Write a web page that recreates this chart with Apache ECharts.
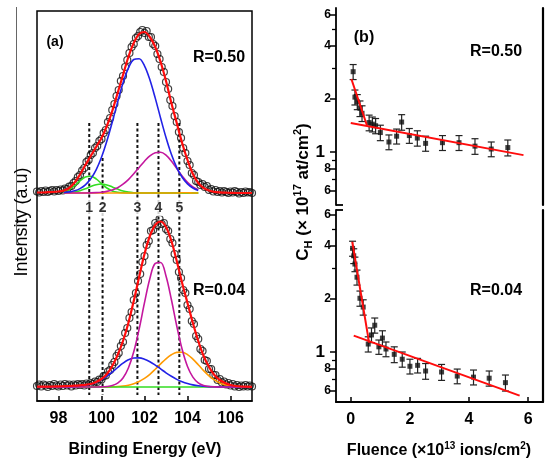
<!DOCTYPE html>
<html><head><meta charset="utf-8">
<script src="https://cdn.jsdelivr.net/npm/echarts@6/dist/echarts.min.js"></script>
<style>html,body{margin:0;padding:0;background:#fff;}#c{width:552px;height:462px;}</style>
</head><body><div id="c"></div>
<script>
// ---------- panel (a): XPS spectra ----------
const eFitStart = 97, eFitStep = 0.25;   // fit curves sampled every 0.25 eV (41 pts)
const ePtStart = 97, ePtStep = 0.1;      // measured points every 0.1 eV (101 pts)
const upperOffset = 208;                 // vertical stacking offset of R=0.50 spectrum
const lowerOffset = 14;                  // offset of R=0.04 spectrum

// R = 0.50 spectrum
const upperRed = [0.5,0.5,0.8,1,1.5,2.5,5,10.5,18.5,28, 37,46,55,67,82,100,118,136,150,159, 161,156,146,131,112,90,70,50,33,19, 10,5,2.5,1.2,0.6,0.3,0.2,0,0,0, 0];
const upperBlue = [null,null,null,null,null, 0.5,1.1,2.2,4.4,8.1,14.2,23.2,35.7,51.9,70.8, 90.9,109.9,124.9,133.5,134.3,127.2,113.2,94.9,74.8,55.5, 38.7,25.4,15.7,9.1,5.0,2.6, null,null,null,null,null,null,null,null,null,null];
const upperMagenta = [null,null,null,null,null, 0,0,0,0,0.05,0.16,0.38,0.8,1.6,3.1, 5.3,8.8,13.4,19.2,25.6,31.8,37.1,40.3,40.8,37.9, 31.9,24.4,17.0,10.7,6.2,3.2, null,null,null,null,null,null,null,null,null,null];
const upperGreen1 = [null,null,null,null,null, 1.4,3.5,7.3,12.1,16.0,16.8,14.1,9.4,5.0,2.1, 0.7,0.2,0.05,0,0,0,0,0,0,0, 0,0,0,0,0,0, null,null,null,null,null,null,null,null,null,null];
const upperGreen2 = [null,null,null,null,null, 0.1,0.4,1.0,2.3,4.2,6.5,8.3,9.0,8.1,6.1, 3.9,2.0,0.9,0.3,0.1,0,0,0,0,0, 0,0,0,0,0,0, null,null,null,null,null,null,null,null,null,null];
const upperOrange = [null,null,null,null,null, 0,0,0,0,0,0,0,0,0,0, 0,0,0,0,0,0,0,0,0,0, 0,0,0.3,0.3,0,0, null,null,null,null,null,null,null,null,null,null];
const upperPts = [
 1.5,0.5,2,1,2.5,1,2,3,1.5,3,
 2,3.5,2.5,4.5,4,6.5,7,10,12,16,
 18,22.5,25,31,33,38,40,45,47,52,
 54,60,63,71,75,83,89,97,103,112,
 117,126,133,140,146,149,155,157,161,163,
 160,162,156,156,149,147,139,134,126,121,
 111,104,93,87,77,71,61,55,45,40,
 32,28,20,18,12,11,8,9,6,7,
 3,4,1.5,3,1,2,0.5,2,1,0,
 1.5,0.5,2,1,-0.5,1,0,1.5,0.5,1,
 0];

// R = 0.04 spectrum
const lowerRed = [0.3,0.3,0.4,0.5,0.6,0.8,1,1.3,1.7,2.2, 3,5,8,13,21,32,46,64,86,110, 133,151,162,165.5,160,146,126,104,84,64, 46,31,20,12,7,4,2,1,0.5,0.3, 0.2];
const lowerBlue = [0,0,0,0,0.03,0.08,0.17,0.37,0.77,1.5, 2.7,4.6,7.2,10.8,15.0,19.5,23.8,27.2,29.0,29.1, 27.8,25.3,21.9,18.1,14.2,10.7,7.6,5.2,3.4,2.1, 1.2,0.7,0.4,0.2,0.1,0,0,0,0,0, 0];
const lowerMagenta = [0,0,0,0,0,0,0,0,0,0, 0,0.03,0.14,0.47,1.4,3.8,9.0,19.0,35.2,57.9, 84.3,108.5,123.6,124.5,111.0,87.5,61.0,37.7,20.5,9.9, 4.2,1.6,0.5,0.15,0,0,0,0,0,0, 0];
const lowerOrange = [0,0,0,0,0,0,0,0,0,0,0,0, 0.04,0.1,0.21,0.46,0.94,1.8,3.2,5.5, 8.6,12.7,17.7,23.1,28.2,32.2,34.6,34.8,32.4,27.9, 22.3,16.4,11.2,7.1,4.1,2.2,1.1,0.5,0.2,0.1, 0];
const lowerGreen = [0,0,0,0,0,0,0,0,0,0, 0,0,0,0,0,0,0,0,0,0, 0,0,0,0,0,0,0,0,0,0, 0,0,0,0,0,0,0,0,0,0, 0];
const lowerPts = [
 1,2.5,0.5,2.5,1.5,0,2,1,3,1.5,
 0.5,2.5,1,3,1.5,2.5,0.5,2.5,1.5,3,
 2,3,1.5,3.5,2.5,4,3,5.5,5,7.5,
 7.5,11,11.5,15.5,17,22,25,31,34,41,
 45,54,59,69,75,87,94,106,113,125,
 131,142,146,156,157,164,162,168,163,164,
 158,156,148,144,133,127,115,109,97,94,
 82,78,66,63,51,48,38,36,27,26,
 18,18,12,12,7,8,4.5,5.5,2.5,4,
 1.5,3,0.5,2,0,1.5,0.5,2,0.5,1.5,
 0.5];

const dashEnergies = [99.43, 100.05, 101.67, 102.65, 103.62];
const dashLabels = ['1','2','3','4','5'];
const dashTop = [278, 243, 278, 278, 278];
const dashBottom = 6;
const dashLabelLevel = 193;
const energyTicks = [98, 100, 102, 104, 106];

// ---------- panel (b): C_H vs fluence ----------
const fluenceA = [0.08,0.14,0.22,0.31,0.38,0.62,0.73,0.84,1.00,1.29,1.55,1.72,1.98,2.25,2.53,3.10,3.66,4.20,4.75,5.31];
const chA      = [2.86,2.05,1.93,1.77,1.66,1.47,1.44,1.41,1.29,1.14,1.23,1.48,1.24,1.20,1.12,1.13,1.13,1.08,1.04,1.06];
const errA     = [0.28,0.20,0.19,0.18,0.17,0.15,0.14,0.14,0.13,0.11,0.12,0.15,0.12,0.12,0.11,0.11,0.11,0.11,0.10,0.11];
const fitA1F = [0.02, 0.55], fitA1C = [2.60, 1.41];
const fitA2F = [0.00, 5.84], fitA2C = [1.46, 0.96];

const fluenceB = [0.06,0.10,0.14,0.21,0.31,0.42,0.59,0.70,0.81,0.95,1.07,1.19,1.47,1.74,2.00,2.26,2.53,3.07,3.60,4.15,4.68,5.23];
const chB      = [3.88,3.52,3.16,2.66,2.02,1.80,1.11,1.25,1.42,1.07,1.20,1.04,0.97,0.91,0.83,0.84,0.78,0.77,0.73,0.72,0.71,0.67];
const errB     = [0.38,0.34,0.30,0.26,0.20,0.18,0.11,0.12,0.14,0.10,0.12,0.10,0.10,0.09,0.08,0.08,0.08,0.08,0.07,0.07,0.07,0.07];
const fitB1F = [0.05, 0.62], fitB1C = [4.23, 1.13];
const fitB2F = [0.10, 5.71], fitB2C = [1.24, 0.565];

const upperRange = [0.5, 6.58];
const lowerRange = [0.52, 6.41];
const majorTicks = [0.6, 0.8, 1, 2, 4, 6];
const minorTicks = [0.7, 0.9, 3, 5];
const fluenceTicks = [0, 2, 4, 6];

// ---------- build ----------
const FONT = '"Liberation Sans", Arial, sans-serif';
const L = Math.log10;
const fitE = Array.from({length: upperRed.length}, (_, i) => +(eFitStart + i * eFitStep).toFixed(2));
const ptE = Array.from({length: upperPts.length}, (_, i) => +(ePtStart + i * ePtStep).toFixed(2));
function curve(ys, off) { const o = []; ys.forEach((v, i) => { if (v !== null) o.push([fitE[i], v + off]); }); return o; }
function pts(ys, off) { return ys.map((v, i) => [ptE[i], v + off]); }

const COL = {blue: '#2222e6', magenta: '#c4179e', green: '#33dd22', orange: '#ff9a00', red: '#ff0c0c'};
const series = [];

dashEnergies.forEach((e, i) => series.push({
  type: 'line', xAxisIndex: 0, yAxisIndex: 0, data: [[e, dashTop[i]], [e, dashBottom]],
  showSymbol: false, silent: true, z: 1,
  lineStyle: {color: '#111', width: 2, type: [3, 2.5]}
}));
series.push({
  type: 'scatter', xAxisIndex: 0, yAxisIndex: 0, silent: true, z: 2,
  data: pts(upperPts, upperOffset).concat(pts(lowerPts, lowerOffset)),
  symbol: 'circle', symbolSize: 7,
  itemStyle: {color: 'rgba(255,255,255,0)', borderColor: '#111', borderWidth: 1.2}
});
function comp(ys, off, color, w) {
  series.push({type: 'line', xAxisIndex: 0, yAxisIndex: 0, data: curve(ys, off), showSymbol: false,
    smooth: 0.35, silent: true, z: 3, lineStyle: {color: color, width: w}});
}
comp(upperGreen2, upperOffset, COL.green, 1.6);
comp(upperGreen1, upperOffset, COL.green, 1.6);
comp(upperOrange, upperOffset, COL.orange, 1.6);
comp(upperMagenta, upperOffset, COL.magenta, 1.6);
comp(upperBlue, upperOffset, COL.blue, 1.6);
comp(upperRed, upperOffset, COL.red, 2.2);
comp(lowerOrange, lowerOffset, COL.orange, 1.6);
comp(lowerGreen, lowerOffset, COL.green, 1.6);
comp(lowerBlue, lowerOffset, COL.blue, 1.6);
comp(lowerMagenta, lowerOffset, COL.magenta, 1.6);
comp(lowerRed, lowerOffset, COL.red, 2.2);
series.push({
  type: 'scatter', xAxisIndex: 0, yAxisIndex: 0, silent: true, z: 6, symbolSize: 1,
  itemStyle: {color: 'rgba(0,0,0,0)'},
  data: dashEnergies.map((e, i) => ({value: [e, dashLabelLevel], name: dashLabels[i]})),
  label: {show: true, position: 'inside', formatter: '{b}', color: '#000', fontSize: 14, fontWeight: 'bold',
    fontFamily: FONT, backgroundColor: '#fff', padding: [1, 1]}
});

function panelB(xi, yi, F, C, E, f1F, f1C, f2F, f2C) {
  series.push({
    type: 'custom', xAxisIndex: xi, yAxisIndex: yi, silent: true, z: 3,
    data: F.map((f, i) => [f, L(C[i] - E[i]), L(C[i] + E[i])]),
    encode: {x: 0, y: [1, 2]},
    renderItem: function (params, api) {
      const lo = api.coord([api.value(0), api.value(1)]);
      const hi = api.coord([api.value(0), api.value(2)]);
      const w = 3.5, st = {stroke: '#222', lineWidth: 1.2};
      return {type: 'group', children: [
        {type: 'line', shape: {x1: hi[0], y1: hi[1], x2: lo[0], y2: lo[1]}, style: st},
        {type: 'line', shape: {x1: hi[0] - w, y1: hi[1], x2: hi[0] + w, y2: hi[1]}, style: st},
        {type: 'line', shape: {x1: lo[0] - w, y1: lo[1], x2: lo[0] + w, y2: lo[1]}, style: st}
      ]};
    }
  });
  series.push({type: 'scatter', xAxisIndex: xi, yAxisIndex: yi, silent: true, z: 4, symbol: 'rect', symbolSize: 5,
    itemStyle: {color: '#111'}, data: F.map((f, i) => [f, L(C[i])])});
  [[f1F, f1C], [f2F, f2C]].forEach(([ff, cc]) => series.push({
    type: 'line', xAxisIndex: xi, yAxisIndex: yi, silent: true, z: 5, showSymbol: false,
    lineStyle: {color: COL.red, width: 2}, data: ff.map((f, i) => [f, L(cc[i])])
  }));
}
panelB(1, 1, fluenceA, chA, errA, fitA1F, fitA1C, fitA2F, fitA2C);
panelB(2, 4, fluenceB, chB, errB, fitB1F, fitB1C, fitB2F, fitB2C);

const boldLbl = {color: '#000', fontFamily: FONT, fontSize: 16, fontWeight: 'bold'};
function logFmt(v) {
  const r = Math.pow(10, v);
  if (Math.abs(r - 1) < 1e-6) return '{big|1}';
  return '{sm|' + (r < 1 ? Math.round(r * 10) : Math.round(r)) + '}';
}
function yMain(g, rng) {
  return {type: 'value', gridIndex: g, position: 'left', offset: 0, min: L(rng[0]), max: L(rng[1]),
    axisLine: {show: true, onZero: false, lineStyle: {color: '#000', width: 1.8}},
    axisTick: {show: true, inside: false, length: 6, customValues: majorTicks.map(L), lineStyle: {color: '#000', width: 1.5}},
    axisLabel: {show: true, customValues: majorTicks.map(L), margin: 5, formatter: logFmt, color: '#000', fontFamily: FONT,
      rich: {big: {fontSize: 17, fontWeight: 'bold', fontFamily: FONT, color: '#000', padding: [0, 6, 0, 0]},
             sm: {fontSize: 12, fontWeight: 'bold', fontFamily: FONT, color: '#000'}}},
    splitLine: {show: false}};
}
function yMinor(g, rng) {
  return {type: 'value', gridIndex: g, position: 'left', offset: 0, min: L(rng[0]), max: L(rng[1]),
    axisLine: {show: false, onZero: false},
    axisTick: {show: true, inside: false, length: 4, customValues: minorTicks.map(L), lineStyle: {color: '#000', width: 1.3}},
    axisLabel: {show: false}, splitLine: {show: false}};
}
function yRight(g, rng) {
  return {type: 'value', gridIndex: g, position: 'right', offset: 0, min: L(rng[0]), max: L(rng[1]),
    axisLine: {show: true, onZero: false, lineStyle: {color: '#000', width: 2.2}},
    axisTick: {show: false}, axisLabel: {show: false}, splitLine: {show: false}};
}

const option = {
  animation: false,
  backgroundColor: '#fff',
  grid: [
    {left: 37, top: 11, width: 215, height: 390, show: true, borderColor: '#000', borderWidth: 1.5, backgroundColor: 'transparent'},
    {left: 336, top: 8, width: 207, height: 197},
    {left: 336, top: 210, width: 207, height: 192}
  ],
  xAxis: [
    {type: 'value', gridIndex: 0, min: 97, max: 107,
      axisLine: {show: true, onZero: false, lineStyle: {color: '#000', width: 1.5}},
      axisTick: {show: true, inside: true, length: 5, customValues: energyTicks, lineStyle: {color: '#000', width: 1.5}},
      axisLabel: Object.assign({customValues: energyTicks, margin: 10}, boldLbl),
      splitLine: {show: false}},
    {type: 'value', gridIndex: 1, min: -0.5, max: 6.5, show: false},
    {type: 'value', gridIndex: 2, min: -0.5, max: 6.5,
      axisLine: {show: true, onZero: false, lineStyle: {color: '#000', width: 1.8}},
      axisTick: {show: true, inside: true, length: 5, customValues: fluenceTicks, lineStyle: {color: '#000', width: 1.5}},
      axisLabel: Object.assign({customValues: fluenceTicks, margin: 10}, boldLbl),
      splitLine: {show: false}}
  ],
  yAxis: [
    {type: 'value', gridIndex: 0, min: 0, max: 390, show: false},
    yMain(1, upperRange), yMinor(1, upperRange), yRight(1, upperRange),
    yMain(2, lowerRange), yMinor(2, lowerRange), yRight(2, lowerRange)
  ],
  graphic: [
    {type: 'line', shape: {x1: 16.5, y1: 7, x2: 16.5, y2: 245}, style: {stroke: '#666', lineWidth: 1}, silent: true},
    {type: 'line', shape: {x1: 336, y1: 205, x2: 343, y2: 205}, style: {stroke: '#000', lineWidth: 1.8}, silent: true},
    {type: 'line', shape: {x1: 336, y1: 210, x2: 343, y2: 210}, style: {stroke: '#000', lineWidth: 1.8}, silent: true},
    {type: 'text', x: 22, y: 222, rotation: Math.PI / 2, silent: true,
      style: {text: 'Intensity (a.u)', fontFamily: FONT, fontSize: 18, fill: '#000', align: 'center', verticalAlign: 'middle'}},
    {type: 'text', x: 145, y: 450, silent: true,
      style: {text: 'Binding Energy (eV)', fontFamily: FONT, fontSize: 16, fontWeight: 'bold', fill: '#000', align: 'center', verticalAlign: 'middle'}},
    {type: 'text', x: 439, y: 451, silent: true,
      style: {text: '{n|Fluence (×10}{s|13}{n| ions/cm}{s|2}{n|)}', align: 'center', verticalAlign: 'middle',
        rich: {n: {fontFamily: FONT, fontSize: 16, fontWeight: 'bold', fill: '#000', lineHeight: 20},
               s: {fontFamily: FONT, fontSize: 10, fontWeight: 'bold', fill: '#000', verticalAlign: 'top', lineHeight: 12}}}},
    {type: 'text', x: 303, y: 192, rotation: Math.PI / 2, silent: true,
      style: {text: '{n|C}{b|H}{n| (× 10}{s|17}{n| at/cm}{s|2}{n|)}', align: 'center', verticalAlign: 'middle',
        rich: {n: {fontFamily: FONT, fontSize: 17, fontWeight: 'bold', fill: '#000', lineHeight: 22},
               s: {fontFamily: FONT, fontSize: 11, fontWeight: 'bold', fill: '#000', verticalAlign: 'top', lineHeight: 12},
               b: {fontFamily: FONT, fontSize: 11, fontWeight: 'bold', fill: '#000', verticalAlign: 'bottom', lineHeight: 12}}}},
    {type: 'text', x: 55, y: 42, silent: true, style: {text: '(a)', fontFamily: FONT, fontSize: 14, fontWeight: 'bold', fill: '#000', align: 'center', verticalAlign: 'middle'}},
    {type: 'text', x: 193, y: 58, silent: true, style: {text: 'R=0.50', fontFamily: FONT, fontSize: 16, fontWeight: 'bold', fill: '#000', align: 'left', verticalAlign: 'middle'}},
    {type: 'text', x: 193, y: 291, silent: true, style: {text: 'R=0.04', fontFamily: FONT, fontSize: 16, fontWeight: 'bold', fill: '#000', align: 'left', verticalAlign: 'middle'}},
    {type: 'text', x: 364, y: 38, silent: true, style: {text: '(b)', fontFamily: FONT, fontSize: 16, fontWeight: 'bold', fill: '#000', align: 'center', verticalAlign: 'middle'}},
    {type: 'text', x: 470, y: 52, silent: true, style: {text: 'R=0.50', fontFamily: FONT, fontSize: 16, fontWeight: 'bold', fill: '#000', align: 'left', verticalAlign: 'middle'}},
    {type: 'text', x: 470, y: 291, silent: true, style: {text: 'R=0.04', fontFamily: FONT, fontSize: 16, fontWeight: 'bold', fill: '#000', align: 'left', verticalAlign: 'middle'}}
  ],
  series: series
};
const chart = echarts.init(document.getElementById('c'));
chart.setOption(option);
</script>
</body></html>
